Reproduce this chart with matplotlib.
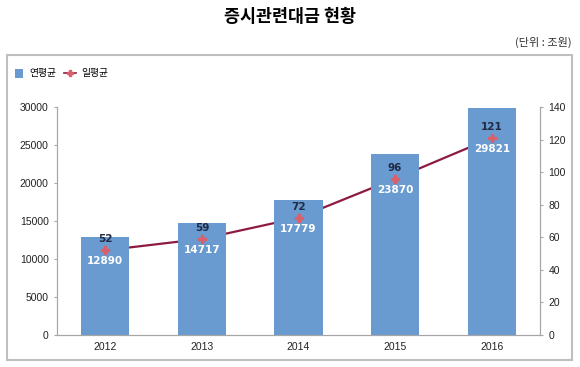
import matplotlib.pyplot as plt
from matplotlib.patches import Rectangle

plt.rcParams['font.family'] = ['Noto Sans CJK KR', 'DejaVu Sans']

years = ['2012', '2013', '2014', '2015', '2016']
annual = [12890, 14717, 17779, 23870, 29821]   # 연평균 (left axis)
daily = [52, 59, 72, 96, 121]                  # 일평균 (right axis)

bar_color = '#6A9BD0'
line_color = '#8E1B3F'
marker_color = '#D9606A'
axis_color = '#A6A6A6'
tickfont = ['Liberation Sans', 'DejaVu Sans']

fig = plt.figure(figsize=(5.8, 3.67), dpi=100)

# outer chart box
fig.patches.append(Rectangle((7 / 580, 7 / 367), 565 / 580, 305 / 367, transform=fig.transFigure,
                             fill=False, edgecolor='#BFBFBF', linewidth=1.5))

fig.text(0.5, 0.955, '증시관련대금 현황', ha='center', va='center', fontsize=12.5, fontweight='bold')
fig.text(0.985, 0.885, '(단위 : 조원)', ha='right', va='center', fontsize=8, color='#333333')

ax = fig.add_axes([57 / 580, 32 / 367, 483 / 580, 228 / 367])
ax2 = ax.twinx()
ax.set_xlim(-0.5, 4.5)
ax.set_ylim(0, 30000)
ax2.set_ylim(0, 140)

x = list(range(len(years)))
# line lies under the bars, drawn in ax with the right-axis scale
ax.plot(x, daily, color=line_color, linewidth=1.6, zorder=1, transform=ax2.transData)
ax.bar(x, annual, width=0.5, color=bar_color, zorder=2)
ax.scatter(x, daily, marker='P', s=28, color=marker_color, zorder=5, transform=ax2.transData)

ax.set_yticks(range(0, 30001, 5000))
ax2.set_yticks(range(0, 141, 20))
ax.set_xticks(x)
ax.set_xticklabels(years)

for a in (ax, ax2):
    a.spines['top'].set_visible(False)
    for s in ('left', 'right', 'bottom'):
        a.spines[s].set_color(axis_color)
    a.tick_params(colors=axis_color, labelcolor='#222222', labelsize=7.5, length=2.5)
ax.tick_params(axis='x', length=0, pad=5)
for lbl in ax.get_yticklabels() + ax2.get_yticklabels() + ax.get_xticklabels():
    lbl.set_family(tickfont)

for i in x:
    ax.annotate(str(daily[i]), (i, daily[i]), xycoords=ax2.transData, xytext=(0, 8),
                textcoords='offset points', ha='center', va='center', fontsize=7.5,
                fontweight='bold', color='#1F2A44', family=['DejaVu Sans'], zorder=6)
    ax.annotate(str(annual[i]), (i, daily[i]), xycoords=ax2.transData, xytext=(0, -8),
                textcoords='offset points', ha='center', va='center', fontsize=7.5,
                fontweight='bold', color='white', family=['DejaVu Sans'], zorder=6)

# legend
fig.patches.append(Rectangle((15 / 580, 1 - 78 / 367), 8 / 580, 9 / 367, transform=fig.transFigure,
                             facecolor=bar_color, edgecolor='none'))
fig.text(29 / 580, 1 - 73 / 367, '연평균', ha='left', va='center', fontsize=7)
fig.lines.append(plt.Line2D([64 / 580, 76 / 580], [1 - 73 / 367] * 2, transform=fig.transFigure,
                            color=line_color, linewidth=1.2))
fig.lines.append(plt.Line2D([70 / 580], [1 - 73 / 367], transform=fig.transFigure, marker='P',
                            markersize=5, color=marker_color, linestyle='none'))
fig.text(81 / 580, 1 - 73 / 367, '일평균', ha='left', va='center', fontsize=7)

fig.savefig('out.png', dpi=100)
